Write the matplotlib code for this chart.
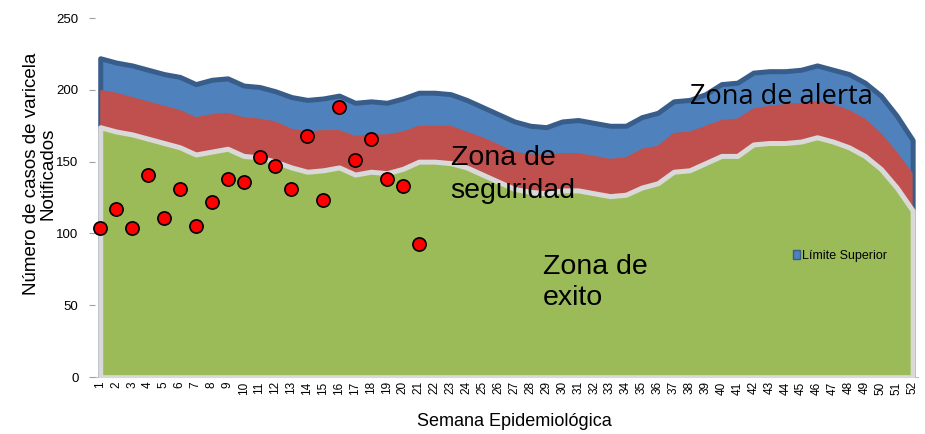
import numpy as np
import matplotlib
matplotlib.use("Agg")
import matplotlib.pyplot as plt
from matplotlib.patches import Patch

plt.rcParams.update({
    'font.family': ['Liberation Sans', 'DejaVu Sans'],
    'font.size': 8,
})

# ── DATOS ────────────────────────────────────────────────────
semanas = np.arange(1, 53)

limite_superior = [222, 219, 217, 214, 211, 209, 204, 207, 208, 203,
                   202, 199, 195, 193, 194, 196, 191, 192, 191, 194,
                   198, 198, 197, 193, 188, 183, 178, 175, 174, 178,
                   179, 177, 175, 175, 181, 184, 192, 193, 197, 204,
                   205, 212, 213, 213, 214, 217, 214, 211, 205, 196,
                   182, 165]

limite_medio = [200, 198, 195, 192, 189, 186, 181, 183, 184, 181,
                180, 178, 173, 171, 172, 172, 168, 169, 169, 171,
                175, 175, 175, 171, 167, 162, 157, 155, 155, 156,
                156, 154, 152, 153, 159, 161, 170, 171, 175, 179,
                180, 187, 189, 190, 191, 192, 190, 186, 180, 170,
                157, 142]

limite_inferior = [174, 171, 169, 166, 163, 160, 155, 157, 159, 154,
                   153, 150, 146, 143, 144, 146, 141, 143, 142, 145,
                   150, 150, 149, 146, 141, 136, 131, 129, 128, 130,
                   130, 128, 126, 127, 132, 135, 143, 144, 149, 154,
                   154, 162, 163, 163, 164, 167, 164, 160, 154, 145,
                   132, 116]

semanas_casos = np.arange(1, 22)
casos = [104, 117, 104, 141, 111, 131, 105, 122, 138, 136, 153,
         147, 131, 168, 123, 188, 151, 166, 138, 133, 93]

# ── COLORES ──────────────────────────────────────────────────
AZUL, AZUL_OSC = '#4F81BD', '#385D8A'
ROJO = '#C0504D'
VERDE, GRIS = '#9BBB59', '#D9D9D9'

fig = plt.figure(figsize=(9.25, 4.34), dpi=100)
ax = fig.add_axes([0.103, 0.131, 0.889, 0.8275])

# areas superpuestas desde 0 (no apiladas)
ax.fill_between(semanas, 0, limite_superior, facecolor=AZUL,
                edgecolor=AZUL_OSC, linewidth=3.6, joinstyle='round', zorder=1)
ax.fill_between(semanas, 0, limite_medio, facecolor=ROJO,
                edgecolor='none', zorder=2)
ax.fill_between(semanas, 0, limite_inferior, facecolor=VERDE,
                edgecolor=GRIS, linewidth=3.6, zorder=3)

ax.plot(semanas_casos, casos, 'o', markersize=9.5, markerfacecolor='#FF0000',
        markeredgecolor='black', markeredgewidth=1.2, zorder=5, clip_on=False)

# textos de zonas
ax.text(23.0, 141, 'Zona de\nseguridad', fontsize=20.5, ha='left', va='center',
        linespacing=1.32, zorder=6)
ax.text(28.8, 66, 'Zona de\nexito', fontsize=20.5, ha='left', va='center',
        linespacing=1.28, zorder=6)
ax.text(38.0, 195, 'Zona de alerta', fontsize=19.5, ha='left', va='center',
        family=['Open Sans', 'DejaVu Sans'], zorder=6)

leg = ax.legend(handles=[Patch(facecolor=AZUL, edgecolor=AZUL_OSC, linewidth=1)],
                labels=['Límite Superior'], loc='center left',
                bbox_to_anchor=(0.849, 0.338), frameon=False, fontsize=9,
                handlelength=0.55, handleheight=0.7, handletextpad=0.15,
                borderaxespad=0, borderpad=0)

# ejes
ax.set_xlim(0.69, 52.31)
ax.set_ylim(0, 250)
ax.set_yticks([0, 50, 100, 150, 200, 250])
ax.set_xticks(semanas)
ax.set_xticklabels([str(s) for s in semanas], rotation=90, fontsize=8.5)
ax.tick_params(axis='x', length=0, pad=3)
ax.tick_params(axis='y', length=4, color='#A0A0A0', pad=8, labelsize=9.5)

for s in ['top', 'right', 'left']:
    ax.spines[s].set_visible(False)
ax.spines['bottom'].set_color('#BFBFBF')
ax.spines['bottom'].set_zorder(0)

ax.set_ylabel('Número de casos de varicela\nNotificados', fontsize=13.5,
              linespacing=1.0)
ax.yaxis.set_label_coords(-0.047, 0.565)
ax.set_xlabel('Semana Epidemiológica', fontsize=13)
ax.xaxis.set_label_coords(0.51, -0.1)

fig.savefig('out.png', dpi=100)
